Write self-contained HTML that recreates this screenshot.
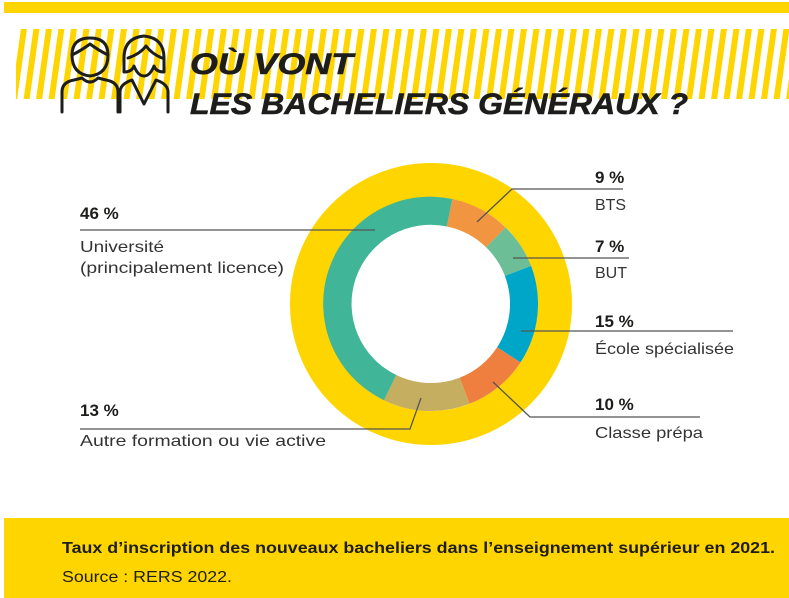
<!DOCTYPE html>
<html><head><meta charset="utf-8"><style>
html,body{margin:0;padding:0;background:#fff;}
svg{display:block;}
text{font-family:"Liberation Sans",sans-serif;}
</style></head><body>
<svg width="789" height="598" viewBox="0 0 789 598" xmlns="http://www.w3.org/2000/svg">
<rect x="0" y="0" width="789" height="598" fill="#fff"/>
<rect x="4" y="2" width="785" height="11" fill="#FFD500"/>
<defs>
<pattern id="st" x="0" y="0" width="12.5" height="70" patternUnits="userSpaceOnUse" patternTransform="skewX(-8)">
<rect x="0" y="0" width="6" height="70" fill="#FFD500"/>
</pattern>
</defs>
<rect x="16" y="29" width="773" height="70" fill="url(#st)"/>
<g fill="none" stroke="#1d1d1b" stroke-width="3" stroke-linejoin="round" stroke-linecap="round">
<path d="M62 112 V92 Q62 82 74 80 L82 78 Q90 86 98 78 L106 80 Q118 82 118 92 V112"/>
<path d="M90 38 Q72 38 72 55 Q72 74 90 76 Q108 74 108 55 Q108 38 90 38 Z"/>
<path d="M72 55 Q82 50 90 44 Q98 50 108 55"/>
<path d="M120 112 V92 Q120 84 132 80 L144 104 L156 80 Q168 84 168 92 V112"/>
<path d="M144 36 Q124 38 124 58 L124 72 Q132 72 134 66 Q138 76 144 76 Q150 76 154 66 Q156 72 164 72 L164 58 Q164 38 144 36 Z"/>
<path d="M128 58 Q140 54 146 46 Q152 54 162 58"/>
</g>
<text x="190" y="74" font-size="30" font-weight="bold" font-style="italic" fill="#1d1d1b" stroke="#1d1d1b" stroke-width="0.6" textLength="163" lengthAdjust="spacingAndGlyphs">OÙ VONT</text>
<text x="190" y="114" font-size="30" font-weight="bold" font-style="italic" fill="#1d1d1b" stroke="#1d1d1b" stroke-width="0.6" textLength="498" lengthAdjust="spacingAndGlyphs">LES BACHELIERS GÉNÉRAUX ?</text>
<circle cx="431" cy="304" r="124" fill="none" stroke="#FFD500" stroke-width="34"/>
<path d="M452.4 199.0 A107 107 0 0 1 505.6 227.5 L486.1 247.3 A79 79 0 0 0 446.8 226.5 Z" fill="#F29540"/>
<path d="M505.6 227.5 A107 107 0 0 1 531.1 265.9 L504.9 275.9 A79 79 0 0 0 486.1 247.3 Z" fill="#6CBE97"/>
<path d="M531.1 265.9 A107 107 0 0 1 520.5 362.5 L497.1 347.2 A79 79 0 0 0 504.9 275.9 Z" fill="#00A6C8"/>
<path d="M520.5 362.5 A107 107 0 0 1 469.6 403.8 L459.5 377.7 A79 79 0 0 0 497.1 347.2 Z" fill="#EE7F3F"/>
<path d="M469.6 403.8 A107 107 0 0 1 384.0 400.2 L396.3 375.0 A79 79 0 0 0 459.5 377.7 Z" fill="#C5AE60"/>
<path d="M384.0 400.2 A107 107 0 0 1 452.4 199.0 L446.8 226.5 A79 79 0 0 0 396.3 375.0 Z" fill="#40B598"/>
<g fill="none" stroke="#555" stroke-width="1.3">
<polyline points="477,222 512,189 623,189"/>
<polyline points="513,258 629,258"/>
<polyline points="521,331 733,331"/>
<polyline points="493,382 530,417 700,417"/>
<polyline points="421,398 410,429 80,429"/>
<polyline points="375,230 80,230"/>
</g>
<g fill="#1d1d1b">
<text x="80" y="219" font-size="17" font-weight="bold">46 %</text>
<text x="80" y="252" font-size="16" fill="#333" textLength="84" lengthAdjust="spacingAndGlyphs">Université</text>
<text x="80" y="273" font-size="16" fill="#333" textLength="204" lengthAdjust="spacingAndGlyphs">(principalement licence)</text>
<text x="80" y="416" font-size="17" font-weight="bold">13 %</text>
<text x="80" y="446" font-size="16" fill="#333" textLength="246" lengthAdjust="spacingAndGlyphs">Autre formation ou vie active</text>
<text x="595" y="183" font-size="17" font-weight="bold">9 %</text>
<text x="595" y="210" font-size="16" fill="#333" textLength="31" lengthAdjust="spacingAndGlyphs">BTS</text>
<text x="595" y="252" font-size="17" font-weight="bold">7 %</text>
<text x="595" y="278" font-size="16" fill="#333" textLength="32" lengthAdjust="spacingAndGlyphs">BUT</text>
<text x="595" y="327" font-size="17" font-weight="bold">15 %</text>
<text x="595" y="354" font-size="16" fill="#333" textLength="139" lengthAdjust="spacingAndGlyphs">École spécialisée</text>
<text x="595" y="410" font-size="17" font-weight="bold">10 %</text>
<text x="595" y="438" font-size="16" fill="#333" textLength="108" lengthAdjust="spacingAndGlyphs">Classe prépa</text>
</g>
<rect x="4" y="518" width="785" height="80" fill="#FFD500"/>
<text x="62" y="553" font-size="16" font-weight="bold" fill="#1d1d1b" textLength="713" lengthAdjust="spacingAndGlyphs">Taux d’inscription des nouveaux bacheliers dans l’enseignement supérieur en 2021.</text>
<text x="62" y="582" font-size="16" fill="#1d1d1b" textLength="170" lengthAdjust="spacingAndGlyphs">Source : RERS 2022.</text>
</svg>
</body></html>
